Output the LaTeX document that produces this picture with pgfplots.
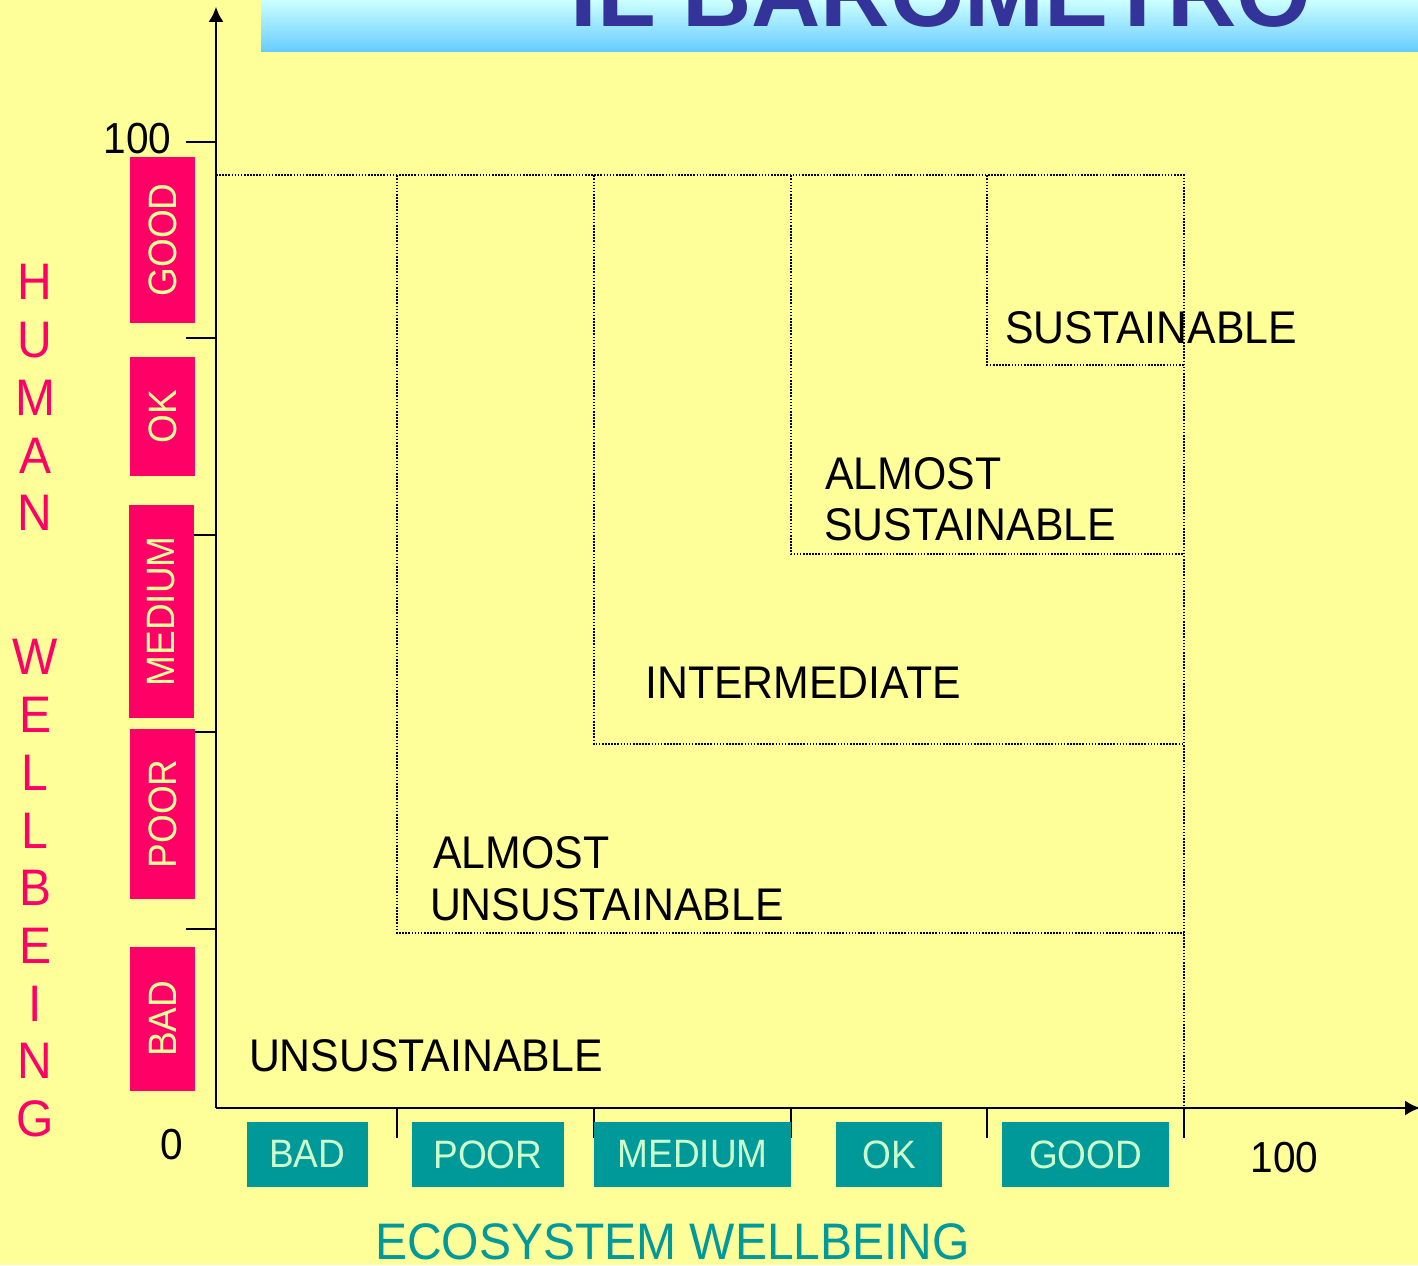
\documentclass[border=0pt]{standalone}
\usepackage{fontspec}
\setmainfont{Liberation Sans}
\usepackage{graphicx}
\usepackage{pgfplots}
\pgfplotsset{compat=1.18}
\usetikzlibrary{arrows.meta}

\definecolor{bg}{RGB}{255,255,153}
\definecolor{hot}{RGB}{255,0,102}
\definecolor{ecoteal}{RGB}{0,153,153}
\definecolor{mint}{RGB}{204,255,204}
\definecolor{paleyel}{RGB}{255,255,153}
\definecolor{navy}{RGB}{51,51,153}
\definecolor{skytop}{RGB}{204,255,255}
\definecolor{skybot}{RGB}{102,204,255}

% glyphs in the slide are a bit taller than Arial
\newcommand{\st}[1]{\scalebox{1}[1.07]{#1}}

\tikzset{
  zone/.style={black, mark=none, line width=0.85pt, dash pattern=on 0.8pt off 0.75pt},
  lab/.style={anchor=base west, inner sep=0, font=\fontsize{21.4}{21.4}\selectfont},
  hbox/.style={rotate=90, text=paleyel, font=\fontsize{18.5}{18.5}\selectfont},
  ebox/.style={text=mint, font=\fontsize{18.5}{18.5}\selectfont},
  arr/.style={line width=1.3pt, black, -{Latex[length=7.5pt,width=7.5pt]}},
}

\begin{document}
\begin{tikzpicture}
\useasboundingbox (0,0) rectangle (709pt,632.5pt);
\fill[bg] (0,0) rectangle (709pt,632.5pt);
\begin{scope}
  \clip (0,0) rectangle (709pt,632.5pt);
  \shade[top color=skytop, bottom color=skybot] (130.5pt,606.65pt) rectangle (709pt,632.5pt);
  \node[anchor=base west, inner sep=0, text=navy, font=\fontsize{48}{48}\selectfont\bfseries] at (285pt,619.15pt) {IL BAROMETRO};
\end{scope}

\begin{axis}[
    at={(108pt,78.5pt)}, anchor=origin,
    x=4.84pt, y=4.83pt,
    xmin=0, xmax=124.4, ymin=0, ymax=114,
    axis lines=left,
    axis line style={draw=none},
    xtick={18.73,39.05,59.40,79.68,100},
    ytick={18.56,38.92,59.32,79.68,100},
    xticklabels={}, yticklabels={},
    tick align=outside,
    major tick length=15pt,
    tick style={line width=1.1pt, black},
    clip=false,
]
  % axes with arrow heads
  \draw[arr] (0,0) -- (124.4,0);
  \draw[arr] (0,0) -- (0,114);

  % zone boundaries
  \addplot[zone] coordinates {(0,96.55) (100,96.55) (100,0)};
  \addplot[zone] coordinates {(18.73,96.55) (18.73,18.12) (100,18.12)};
  \addplot[zone] coordinates {(39.05,96.55) (39.05,37.68) (100,37.68)};
  \addplot[zone] coordinates {(59.40,96.55) (59.40,57.35) (100,57.35)};
  \addplot[zone] coordinates {(79.68,96.55) (79.68,76.92) (100,76.92)};

  % zone names
  \node[lab] at (81.5,79.19) {\st{SUSTAINABLE}};
  \node[lab] at (62.9,63.98) {\st{ALMOST}};
  \node[lab] at (62.8,58.70) {\st{SUSTAINABLE}};
  \node[lab] at (44.3,42.34) {\st{INTERMEDIATE}};
  \node[lab] at (22.4,24.84) {\st{ALMOST}};
  \node[lab] at (22.07,19.46) {\st{UNSUSTAINABLE}};
  \node[lab] at (3.37,3.73) {\st{UNSUSTAINABLE}};

  % human wellbeing classes
  \fill[hot] (-8.88,81.26) rectangle (-2.17,98.45);
  \fill[hot] (-8.88,65.46) rectangle (-2.17,77.74);
  \fill[hot] (-8.99,40.40) rectangle (-2.27,62.42);
  \fill[hot] (-8.88,21.64) rectangle (-2.17,39.23);
  \fill[hot] (-8.88,1.79) rectangle (-2.17,16.67);
  \node[hbox] at (-5.52,89.86) {\st{GOOD}};
  \node[hbox] at (-5.52,71.60) {\st{OK}};
  \node[hbox] at (-5.63,51.41) {\st{MEDIUM}};
  \node[hbox] at (-5.52,30.44) {\st{POOR}};
  \node[hbox] at (-5.52,9.23) {\st{BAD}};

  % ecosystem wellbeing classes
  \fill[ecoteal] (3.17,-8.15) rectangle (15.67,-1.45);
  \fill[ecoteal] (20.25,-8.15) rectangle (35.95,-1.45);
  \fill[ecoteal] (39.05,-8.15) rectangle (59.40,-1.45);
  \fill[ecoteal] (64.05,-8.15) rectangle (75.00,-1.45);
  \fill[ecoteal] (81.20,-8.15) rectangle (98.45,-1.45);
  \node[ebox] at (9.42,-4.8) {\st{BAD}};
  \node[ebox] at (28.10,-4.8) {\st{POOR}};
  \node[ebox] at (49.23,-4.8) {\st{MEDIUM}};
  \node[ebox] at (69.53,-4.8) {\st{OK}};
  \node[ebox] at (89.83,-4.8) {\st{GOOD}};

  % scale ends
  \node[anchor=base east, inner sep=0, font=\fontsize{20.3}{20}\selectfont] at (-4.58,98.76) {\st{100}};
  \node[anchor=base, inner sep=0, font=\fontsize{20.3}{20}\selectfont] at (-4.55,-5.28) {\st{0}};
  \node[anchor=base, inner sep=0, font=\fontsize{20.3}{20}\selectfont] at (110.4,-6.63) {\st{100}};

  \node[anchor=base, inner sep=0, text=ecoteal, font=\fontsize{24}{24}\selectfont] at (47.16,-15.73) {\st{ECOSYSTEM WELLBEING}};
\end{axis}

% vertical axis title, one letter per line
\foreach \l [count=\i from 0] in {H,U,M,A,N}
  \node[anchor=base, inner sep=0, text=hot, font=\fontsize{24}{24}\selectfont] at (17.65pt,{(965-57.7*\i)*0.5pt}) {\st{\l}};
\foreach \l [count=\i from 0] in {W,E,L,L,B,E,I,N,G}
  \node[anchor=base, inner sep=0, text=hot, font=\fontsize{24}{24}\selectfont] at (17.65pt,{(590-57.7*\i)*0.5pt}) {\st{\l}};
\end{tikzpicture}
\end{document}
